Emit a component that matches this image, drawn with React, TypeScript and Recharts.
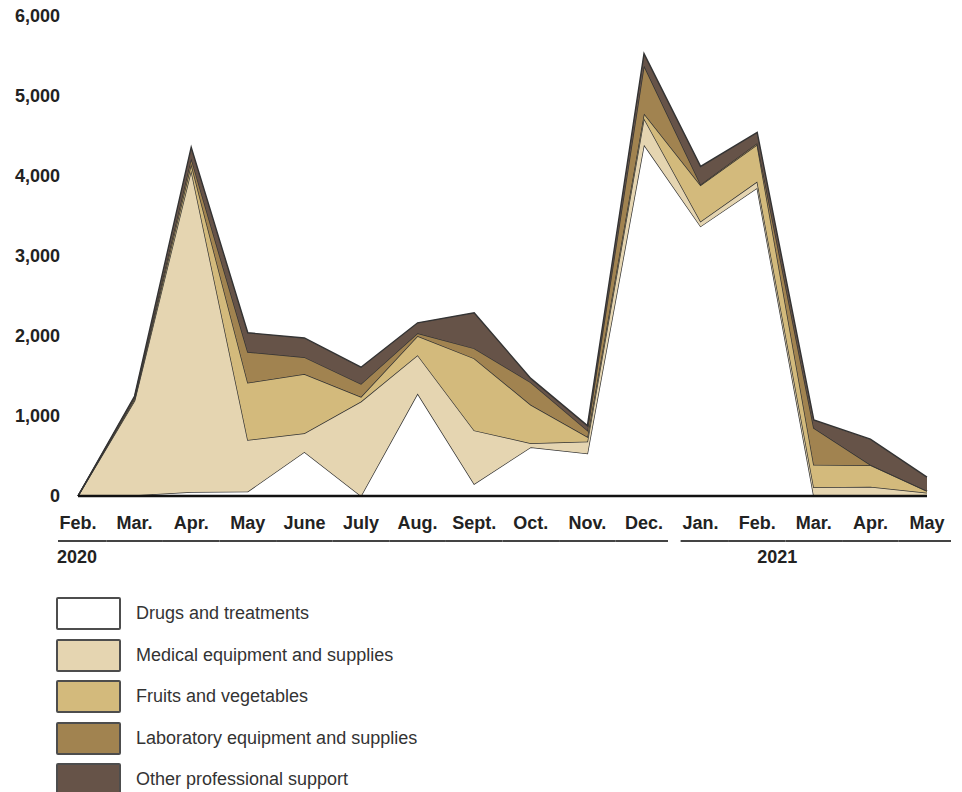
import React from "react";
import { AreaChart, Area, XAxis, YAxis } from "recharts";

const MONTHS = ["Feb.", "Mar.", "Apr.", "May", "June", "July", "Aug.", "Sept.", "Oct.", "Nov.", "Dec.", "Jan.", "Feb.", "Mar.", "Apr.", "May"];
const YEAR_OF = [2020, 2020, 2020, 2020, 2020, 2020, 2020, 2020, 2020, 2020, 2020, 2021, 2021, 2021, 2021, 2021];

const drugs   = [0, 10, 50, 55, 550, 0, 1280, 150, 610, 530, 4390, 3370, 3850, 0, 0, 0];
const medical = [0, 1180, 4020, 645, 235, 1180, 480, 670, 50, 150, 330, 60, 80, 110, 115, 40];
const fruits  = [0, 20, 80, 715, 740, 60, 240, 900, 480, 60, 60, 455, 460, 280, 270, 20];
const lab     = [0, 20, 70, 385, 210, 160, 35, 125, 280, 80, 600, 10, 20, 460, 5, 5];
const other   = [0, 20, 140, 240, 240, 210, 130, 445, 50, 60, 150, 225, 135, 100, 320, 170];

const Y_TICKS = [0, 1000, 2000, 3000, 4000, 5000, 6000];

// year label sits under: first tick for 2020, the Feb. tick for 2021
const YEAR_LABEL_AT: Record<number, number> = { 2020: 0, 2021: 12 };

const SERIES = [
  { key: "drugs", name: "Drugs and treatments", color: "#ffffff" },
  { key: "medical", name: "Medical equipment and supplies", color: "#e5d5b1" },
  { key: "fruits", name: "Fruits and vegetables", color: "#d3ba7c" },
  { key: "lab", name: "Laboratory equipment and supplies", color: "#a18350" },
  { key: "other", name: "Other professional support", color: "#665348" },
];

const data = MONTHS.map((m, i) => ({
  key: `${m} ${YEAR_OF[i]}`,
  drugs: drugs[i],
  medical: medical[i],
  fruits: fruits[i],
  lab: lab[i],
  other: other[i],
}));

const W = 962;
const H = 580;
const M = { top: 16, right: 35, left: 0, bottom: 0 };
const Y_W = 78;
const GAP = (W - M.left - M.right - Y_W) / (MONTHS.length - 1);
const FONT = "'Liberation Sans', Arial, sans-serif";

function MonthTick(props: any) {
  const { x, y, payload } = props;
  const i = payload.index;
  const yr = YEAR_OF[i];
  const first = i === 0 || YEAR_OF[i - 1] !== yr;
  const last = i === MONTHS.length - 1 || YEAR_OF[i + 1] !== yr;
  const x1 = first ? x - 20 : x - GAP / 2;
  const x2 = last ? x + 24 : x + GAP / 2;
  return (
    <g>
      <text x={x} y={y + 33} textAnchor="middle" fontFamily={FONT} fontWeight={700} fontSize={18} fill="#222">
        {MONTHS[i]}
      </text>
      <line x1={x1} x2={x2} y1={y + 45} y2={y + 45} stroke="#444" strokeWidth={2} />
      {YEAR_LABEL_AT[yr] === i && (
        <text x={first ? x - 21 : x} y={y + 67} textAnchor="start" fontFamily={FONT} fontWeight={700} fontSize={18} fill="#222">
          {yr}
        </text>
      )}
    </g>
  );
}

export default function App() {
  return (
    <div style={{ position: "absolute", left: 0, top: 0, width: W, height: 792, background: "#fff" }}>
      <AreaChart width={W} height={H} data={data} margin={M}>
        <XAxis dataKey="key" interval={0} height={84} tickLine={false} tickSize={0} tickMargin={0}
          axisLine={{ stroke: "#111", strokeWidth: 2.5 }} tick={<MonthTick />} />
        <YAxis domain={[0, 6000]} ticks={Y_TICKS} width={Y_W} axisLine={false} tickLine={false}
          tickSize={0} tickMargin={18} tickFormatter={(v: number) => v.toLocaleString("en-US")}
          tick={{ fill: "#222", fontSize: 18, fontWeight: 700, fontFamily: FONT }} />
        {SERIES.map(s => (
          <Area key={s.key} type="linear" dataKey={s.key} name={s.name} stackId="1"
            stroke="#333" strokeWidth={1.4} fill={s.color} fillOpacity={1}
            dot={false} activeDot={false} isAnimationActive={false} />
        ))}
      </AreaChart>
      {SERIES.map((s, i) => (
        <div key={s.key} style={{ position: "absolute", left: 56, top: 597 + i * 41.5, display: "flex", alignItems: "center" }}>
          <div style={{ width: 61, height: 29, background: s.color, border: "2px solid #4d4d4d", borderRadius: 2 }} />
          <span style={{ marginLeft: 15, fontFamily: FONT, fontSize: 18, color: "#333" }}>{s.name}</span>
        </div>
      ))}
    </div>
  );
}
